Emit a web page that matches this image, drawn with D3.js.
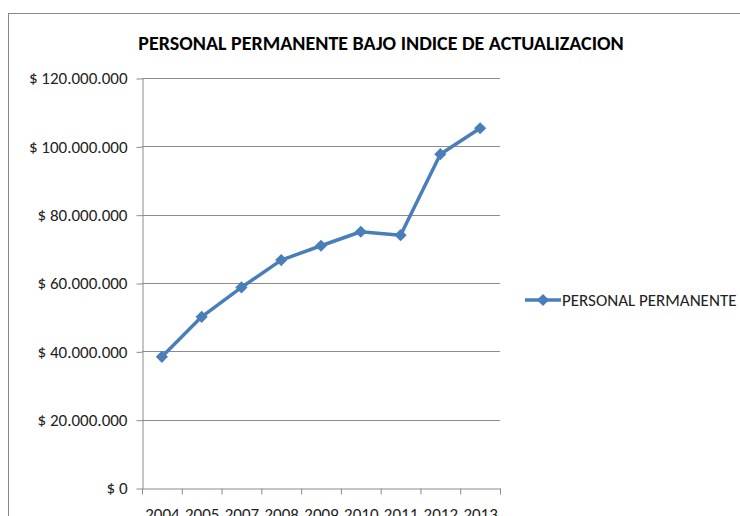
<!DOCTYPE html>
<html lang="es">
<head>
<meta charset="UTF-8">
<script src="https://cdn.jsdelivr.net/npm/d3@7"></script>
<style>
  body { margin: 0; background: #fff; }
  svg { display: block; font-family: Carlito, "Open Sans", sans-serif; }
</style>
</head>
<body>
<svg id="chart" width="740" height="516"></svg>
<script>
// data
const years = ['2004', '2005', '2007', '2008', '2009', '2010', '2011', '2012', '2013'];
const personal = [38400000, 50100000, 58700000, 66700000, 70900000, 75000000, 74000000, 97700000, 105300000];
const yTicks = [0, 20000000, 40000000, 60000000, 80000000, 100000000, 120000000];
const seriesName = 'PERSONAL PERMANENTE';
const title = 'PERSONAL PERMANENTE BAJO INDICE DE ACTUALIZACION';

const svg = d3.select('#chart');
const margin = { left: 142, right: 500, top: 78, bottom: 488 };
const blue = '#4a7ebb';
const grey = '#8c8c8c';
const font = 'Carlito, "Open Sans", sans-serif';

// outer chart border
svg.append('rect')
  .attr('x', 8.5).attr('y', 13.5)
  .attr('width', 800).attr('height', 600)
  .attr('fill', 'none').attr('stroke', '#878787');

const x = d3.scaleBand().domain(years).range([margin.left, margin.right]);
const y = d3.scaleLinear().domain([0, 120000000]).range([margin.bottom, margin.top]);

const fmt = v => '$ ' + d3.format(',')(v).replace(/,/g, '.');

// gridlines
svg.append('g')
  .selectAll('line')
  .data(yTicks.filter(d => d > 0))
  .enter().append('line')
  .attr('x1', margin.left).attr('x2', margin.right)
  .attr('y1', d => Math.round(y(d)) + 0.5).attr('y2', d => Math.round(y(d)) + 0.5)
  .attr('stroke', grey);

// y axis
const yAxis = svg.append('g')
  .attr('transform', `translate(${margin.left + 0.5},0.5)`)
  .call(d3.axisLeft(y).tickValues(yTicks).tickFormat(fmt).tickSize(6).tickSizeOuter(0));
yAxis.select('.domain').attr('stroke', grey);
yAxis.selectAll('.tick line').attr('stroke', grey);
yAxis.selectAll('text')
  .attr('x', -15)
  .attr('font-family', font)
  .attr('font-size', 17).attr('fill', '#222');

// x axis
const xAxis = svg.append('g')
  .attr('transform', `translate(0.5,${margin.bottom + 0.5})`)
  .call(d3.axisBottom(x).tickSize(0).tickSizeOuter(0));
xAxis.select('.domain').attr('stroke', grey);
xAxis.selectAll('text')
  .attr('y', 19)
  .attr('font-family', font)
  .attr('font-size', 17).attr('fill', '#222');
xAxis.selectAll('.boundary')
  .data(d3.range(years.length + 1))
  .enter().append('line')
  .attr('x1', i => margin.left + i * x.step()).attr('x2', i => margin.left + i * x.step())
  .attr('y1', 0).attr('y2', 6)
  .attr('stroke', grey);

// series line
const cx = d => x(d) + x.bandwidth() / 2;
svg.append('path')
  .datum(years.map((yr, i) => [cx(yr), y(personal[i])]))
  .attr('d', d3.line())
  .attr('fill', 'none')
  .attr('stroke', blue)
  .attr('stroke-width', 3.5)
  .attr('stroke-linejoin', 'round');

// square rotated 45deg = even diamond
const marker = d3.symbol().type(d3.symbolSquare).size(74);
svg.append('g')
  .selectAll('path')
  .data(personal)
  .enter().append('path')
  .attr('d', marker)
  .attr('transform', (d, i) => `translate(${cx(years[i])},${y(d)}) rotate(45)`)
  .attr('fill', blue);

// title
svg.append('text')
  .attr('x', 381).attr('y', 50)
  .attr('text-anchor', 'middle')
  .attr('font-size', 20).attr('font-weight', 'bold')
  .attr('fill', '#000')
  .text(title);

// legend
const lg = svg.append('g').attr('transform', 'translate(525,300)');
lg.append('line').attr('x1', 0).attr('x2', 36).attr('stroke', blue).attr('stroke-width', 3.5);
lg.append('path').attr('d', marker).attr('transform', 'translate(18,0) rotate(45)').attr('fill', blue);
lg.append('text')
  .attr('x', 37).attr('y', 6)
  .attr('font-size', 17).attr('fill', '#222')
  .text(seriesName);
</script>
</body>
</html>
